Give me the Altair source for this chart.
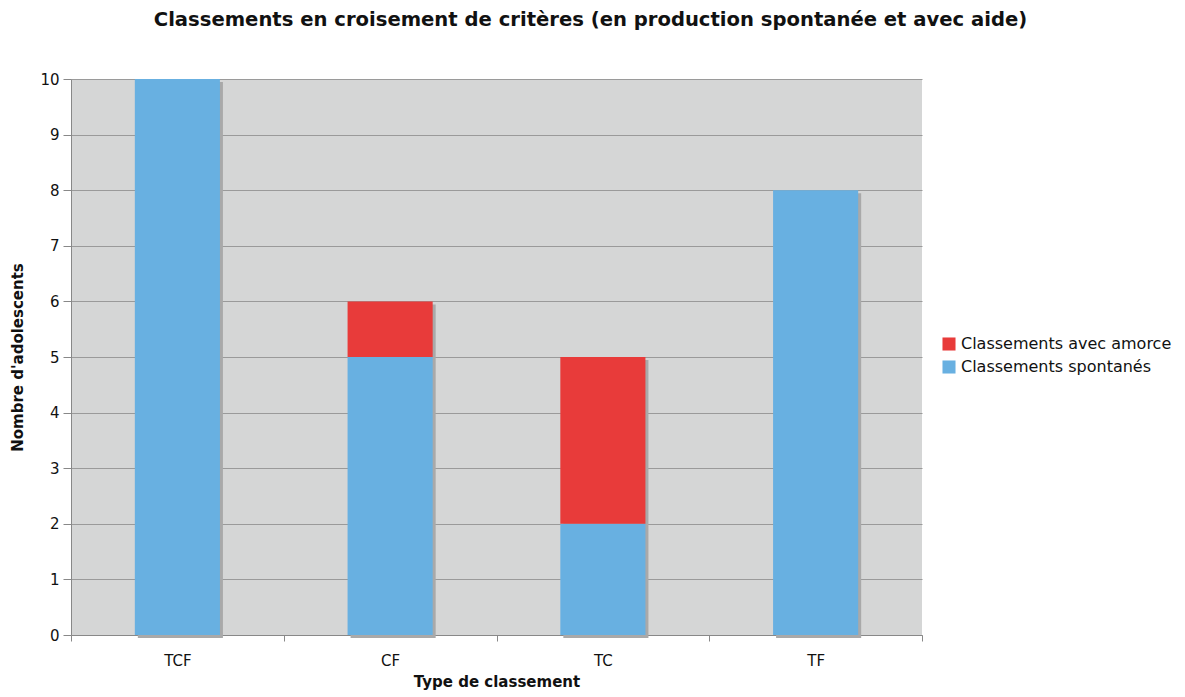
import altair as alt
import pandas as pd

categories = ["TCF", "CF", "TC", "TF"]
spontanes = [10, 5, 2, 8]
amorce = [0, 1, 3, 0]
series_names = ["Classements avec amorce", "Classements spontanés"]
colors = ["#e83b3a", "#68b0e1"]
y_ticks = list(range(0, 11))

rows = []
for c, s, a in zip(categories, spontanes, amorce):
    rows.append({"cat": c, "serie": series_names[1], "val": s, "ord": 0})
    if a > 0:
        rows.append({"cat": c, "serie": series_names[0], "val": a, "ord": 1})
df = pd.DataFrame(rows)
tot = pd.DataFrame({"cat": categories, "total": [s + a for s, a in zip(spontanes, amorce)]})

FONT = "DejaVu Sans"

xenc = alt.X("cat:N", sort=categories, title="Type de classement",
             scale=alt.Scale(paddingInner=0, paddingOuter=0),
             axis=alt.Axis(labelAngle=0, tickBand="extent", grid=False,
                           domainColor="#888888", tickColor="#888888", tickSize=6,
                           labelFontSize=15, labelColor="#111111", labelPadding=12,
                           titleFontSize=15, titleFontWeight="bold", titlePadding=6,
                           titleColor="#111111"))

shadow = alt.Chart(tot).mark_bar(width=alt.RelativeBandSize(0.4), color="#a9a9a9",
                                  xOffset=3, yOffset=3, y2Offset=0).encode(
    x=xenc,
    y=alt.Y("total:Q"),
)

bars = alt.Chart(df).mark_bar(width=alt.RelativeBandSize(0.4)).encode(
    x=xenc,
    y=alt.Y("val:Q", stack="zero", title="Nombre d'adolescents",
            scale=alt.Scale(domain=[0, 10], nice=False),
            axis=alt.Axis(values=y_ticks, gridColor="#9a9a9a", gridWidth=1,
                          domainColor="#888888", tickColor="#888888", tickSize=8,
                          labelFontSize=15, labelColor="#111111", labelPadding=4,
                          titleFontSize=15, titleFontWeight="bold", titlePadding=14,
                          titleColor="#111111")),
    color=alt.Color("serie:N", scale=alt.Scale(domain=series_names, range=colors),
                    legend=alt.Legend(title=None, orient="none", legendX=870, legendY=257,
                                      symbolType="square", symbolSize=170,
                                      symbolStrokeWidth=0, labelFontSize=16,
                                      labelColor="#111111", rowPadding=7,
                                      labelOffset=4, labelLimit=400)),
    order=alt.Order("ord:Q", sort="ascending"),
)

chart = alt.layer(shadow, bars).properties(
    width=851, height=556,
    autosize=alt.AutoSizeParams(type="none"),
    padding={"left": 63, "top": 71, "right": 255, "bottom": 61},
    view=alt.ViewBackground(fill="#d5d6d6", strokeWidth=0),
    title=alt.TitleParams("Classements en croisement de critères (en production spontanée et avec aide)",
                          fontSize=19.6, fontWeight="bold", font=FONT, color="#111111",
                          anchor="middle", dx=94, offset=41),
).configure(font=FONT)

chart.save("out.html", embed_options={"renderer": "svg", "actions": False})
